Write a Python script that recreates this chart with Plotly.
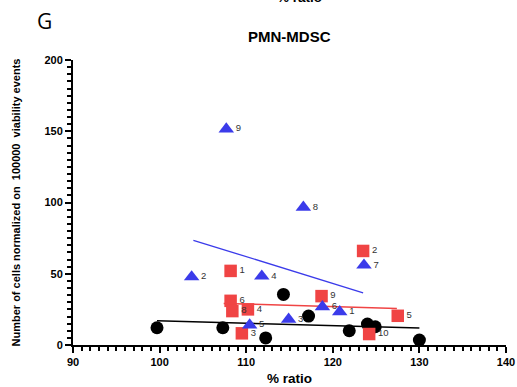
import plotly.graph_objects as go

# Blue triangles
tri_x = [107.7, 116.6, 103.7, 111.8, 110.4, 114.9, 123.6, 118.8, 120.8]
tri_y = [151.5, 96.6, 47.8, 48.3, 14.0, 18.0, 56.0, 26.8, 23.3]
tri_lab = ["9", "8", "2", "4", "5", "3", "7", "6", "1"]

# Red squares
sq_x = [108.2, 108.2, 108.4, 110.2, 109.5, 123.5, 118.7, 127.5, 124.2]
sq_y = [52.0, 31.0, 23.8, 25.0, 8.2, 66.0, 34.3, 20.5, 7.7]
sq_lab = ["1", "6", "8", "4", "3", "2", "9", "5", "10"]

# Black circles
ci_x = [99.7, 107.3, 112.25, 114.3, 117.2, 121.9, 124.0, 124.9, 130.0]
ci_y = [12.1, 12.1, 5.0, 35.5, 20.3, 10.0, 14.7, 12.8, 3.5]

# Regression lines (endpoints)
blue_fit_x = [103.9, 123.5]
blue_fit_y = [73.5, 36.6]
red_fit_x = [107.4, 127.4]
red_fit_y = [29.2, 25.7]
black_fit_x = [99.7, 130.0]
black_fit_y = [17.0, 11.9]

BLUE = "#3b3bea"
RED = "#f04444"
FONT = "Liberation Sans, Arial"

fig = go.Figure()
fig.add_trace(go.Scatter(x=blue_fit_x, y=blue_fit_y, mode="lines",
                         line=dict(color=BLUE, width=1.3), hoverinfo="skip"))
fig.add_trace(go.Scatter(x=red_fit_x, y=red_fit_y, mode="lines",
                         line=dict(color=RED, width=1.5), hoverinfo="skip"))
fig.add_trace(go.Scatter(x=black_fit_x, y=black_fit_y, mode="lines",
                         line=dict(color="black", width=1.5), hoverinfo="skip"))
fig.add_trace(go.Scatter(x=ci_x, y=ci_y, mode="markers",
                         marker=dict(symbol="circle", size=13, color="black"),
                         cliponaxis=False))
fig.add_trace(go.Scatter(x=sq_x, y=sq_y, mode="markers+text", text=sq_lab,
                         textposition="middle right",
                         textfont=dict(family=FONT, size=9.5, color="#333"),
                         marker=dict(symbol="square", size=12.5, color=RED),
                         cliponaxis=False))
fig.add_trace(go.Scatter(x=tri_x, y=tri_y, mode="markers+text", text=tri_lab,
                         textposition="middle right",
                         textfont=dict(family=FONT, size=9.5, color="#333"),
                         marker=dict(symbol="triangle-up", size=13.5, color=BLUE),
                         cliponaxis=False))

fig.update_layout(
    width=517, height=387,
    margin=dict(l=73, r=11, t=60, b=42),
    plot_bgcolor="white", paper_bgcolor="white",
    showlegend=False,
    xaxis=dict(range=[90, 140], tickvals=[90, 100, 110, 120, 130, 140], automargin=False,
               showgrid=False, zeroline=False, showline=True, linecolor="black", linewidth=2,
               ticks="outside", ticklen=6, tickwidth=2, tickcolor="black",
               tickfont=dict(family=FONT, size=11, color="black", weight="bold"),
               minor=dict(ticks="outside", dtick=1, ticklen=4, tickwidth=1.5, tickcolor="black"),
               title=dict(text="<b>% ratio</b>", standoff=6,
                          font=dict(family=FONT, size=13.5, color="black"))),
    yaxis=dict(range=[0, 200], tickvals=[0, 50, 100, 150, 200], automargin=False,
               showgrid=False, zeroline=False, showline=True, linecolor="black", linewidth=2,
               ticks="outside", ticklen=6, tickwidth=2, tickcolor="black",
               tickfont=dict(family=FONT, size=11, color="black", weight="bold"),
               minor=dict(ticks="outside", dtick=5, ticklen=4, tickwidth=1.5, tickcolor="black"),
               title=dict(text="<b>Number of cells normalized on  100000  viability events</b>",
                          standoff=22,
                          font=dict(family=FONT, size=11, color="black"))),
    annotations=[
        dict(text="<b>PMN-MDSC</b>", xref="paper", yref="paper", x=0.501, y=1.081,
             xanchor="center", yanchor="middle", showarrow=False,
             font=dict(family=FONT, size=15, color="black")),
        dict(text="G", xref="paper", yref="paper", x=-0.065, y=1.137, xanchor="center",
             yanchor="middle", showarrow=False,
             font=dict(family="Open Sans, Liberation Sans", size=21, color="black")),
        dict(text="<b>% ratio</b>", xref="paper", yref="paper", x=0.522, y=1.221,
             xanchor="center", yanchor="middle", showarrow=False,
             font=dict(family=FONT, size=13.5, color="black")),
        dict(text="J", xref="paper", yref="paper", x=-0.053, y=-0.13, xanchor="center",
             yanchor="top", showarrow=False,
             font=dict(family="Open Sans, Liberation Sans", size=20, color="black")),
    ],
)

fig.write_html(
    "out.html",
    config={"displayModeBar": False},
    post_script="document.body.style.margin='0';document.body.style.overflow='hidden';",
)
